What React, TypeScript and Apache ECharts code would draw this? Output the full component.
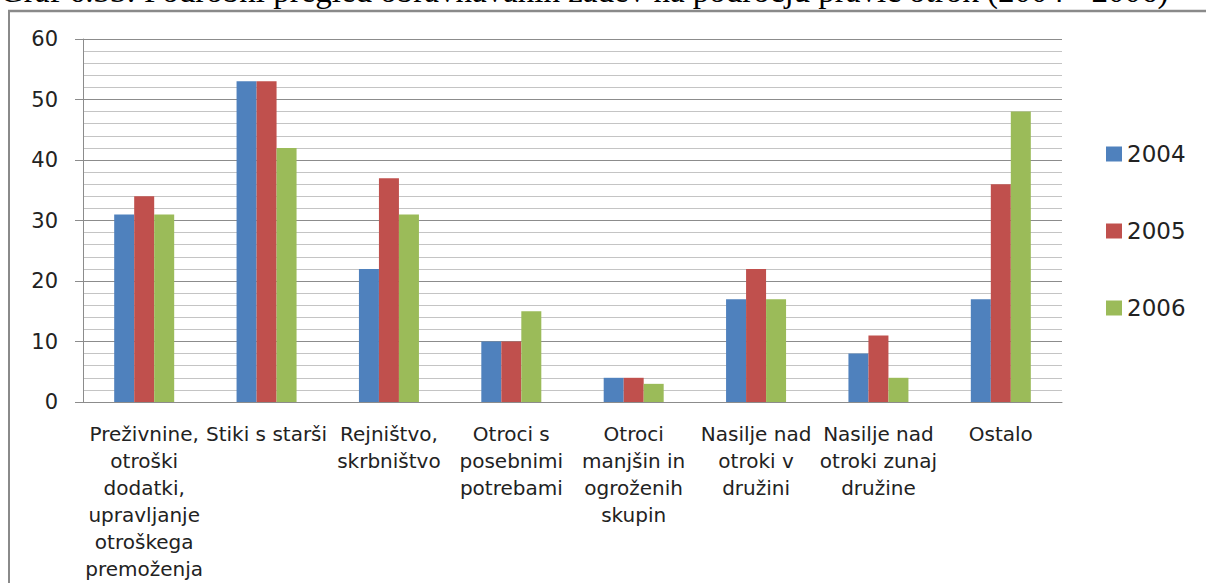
import React, { useEffect, useRef } from "react";
import * as echarts from "echarts";

const categories = [
  "Preživnine,\notroški\ndodatki,\nupravljanje\notroškega\npremoženja",
  "Stiki s starši",
  "Rejništvo,\nskrbništvo",
  "Otroci s\nposebnimi\npotrebami",
  "Otroci\nmanjšin in\nogroženih\nskupin",
  "Nasilje nad\notroki v\ndružini",
  "Nasilje nad\notroki zunaj\ndružine",
  "Ostalo",
];
const seriesNames = ["2004", "2005", "2006"];
const values2004 = [31, 53, 22, 10, 4, 17, 8, 17];
const values2005 = [34, 53, 37, 10, 4, 22, 11, 36];
const values2006 = [31, 42, 31, 15, 3, 17, 4, 48];
const colors = ["#4F81BD", "#C0504D", "#9BBB59"];
const titleText =
  "Graf 6.33: Podrobni pregled obravnavanih zadev na področju pravic otrok (2004 - 2006)";

export default function App() {
  const ref = useRef<HTMLDivElement>(null);
  useEffect(() => {
    if (!ref.current) return;
    const chart = echarts.init(ref.current, null, { renderer: "svg" });
    const data = [values2004, values2005, values2006];
    const font = "DejaVu Sans";
    chart.setOption({
      animation: false,
      backgroundColor: "#ffffff",
      color: colors,
      grid: { left: 83, top: 39, width: 979, height: 363, containLabel: false },
      legend: {
        orient: "vertical",
        left: 1106,
        top: 140,
        padding: 0,
        itemWidth: 16,
        itemHeight: 15,
        itemGap: 49,
        icon: "rect",
        data: seriesNames,
        textStyle: { fontFamily: font, fontSize: 23, color: "#222", lineHeight: 28 },
      },
      xAxis: {
        type: "category",
        data: categories,
        axisLine: { show: true, lineStyle: { color: "#8c8c8c", width: 1 } },
        axisTick: { show: false },
        axisLabel: {
          interval: 0,
          margin: 18,
          fontFamily: font,
          fontSize: 20,
          lineHeight: 27,
          color: "#222",
          align: "center",
        },
        splitLine: { show: false },
      },
      yAxis: {
        type: "value",
        min: 0,
        max: 60,
        interval: 10,
        axisLine: { show: true, lineStyle: { color: "#8c8c8c", width: 1 } },
        axisTick: { show: true, length: 8, inside: false, lineStyle: { color: "#8c8c8c" } },
        axisLabel: { margin: 25, fontFamily: font, fontSize: 21, color: "#222" },
        splitLine: { show: true, lineStyle: { color: "#8c8c8c", width: 1 } },
        minorTick: { show: false, splitNumber: 5 },
        minorSplitLine: { show: true, lineStyle: { color: "#c4c4c4", width: 1 } },
      },
      series: seriesNames.map((name, i) => ({
        name,
        type: "bar",
        data: data[i],
        barWidth: 20,
        barGap: "0%",
        itemStyle: { color: colors[i] },
      })),
      graphic: [
        {
          type: "text",
          x: 0,
          y: -9,
          style: {
            text: titleText,
            font: "33px 'Liberation Serif'",
            fill: "#000",
            verticalAlign: "middle",
            align: "left",
          },
        },
        {
          type: "line",
          shape: { x1: 8, y1: 11, x2: 1206, y2: 11 },
          style: { stroke: "#8a8a8a", lineWidth: 2.5 },
        },
        {
          type: "line",
          shape: { x1: 9, y1: 10, x2: 9, y2: 583 },
          style: { stroke: "#8a8a8a", lineWidth: 2 },
        },
      ],
    });
    return () => chart.dispose();
  }, []);
  return (
    <div
      ref={ref}
      style={{ position: "fixed", left: 0, top: 0, width: 1206, height: 583 }}
    />
  );
}
